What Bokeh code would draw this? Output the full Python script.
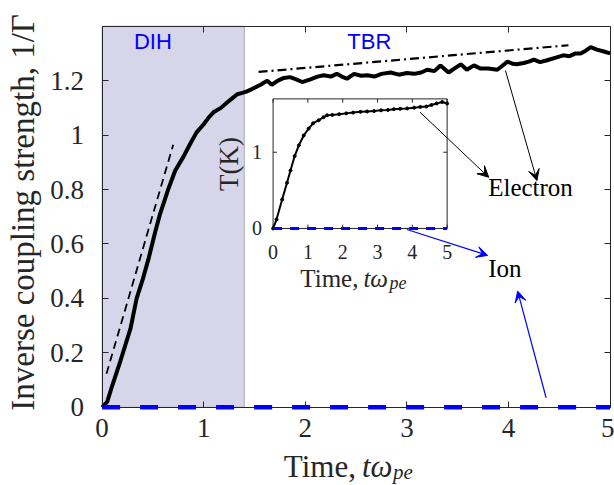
import math
from bokeh.plotting import figure
from bokeh.models import Range1d, LinearAxis, FixedTicker, BoxAnnotation, Label, Arrow, VeeHead
from bokeh.core.properties import value
from bokeh.embed import file_html
from bokeh.resources import INLINE

# ---------------- data ----------------
# electron inverse coupling strength 1/Gamma (main axes)
e_t = [0, 0.05, 0.1, 0.18, 0.28, 0.34, 0.4, 0.46, 0.52, 0.57, 0.65, 0.72, 0.8, 0.87, 0.93,
       1.0, 1.05, 1.1, 1.17, 1.23, 1.28, 1.33, 1.38, 1.42, 1.48, 1.56, 1.625, 1.67, 1.73, 1.79,
       1.85, 1.91, 1.97, 2.05, 2.12, 2.18, 2.25, 2.31, 2.36, 2.41, 2.48, 2.55, 2.61, 2.68, 2.75,
       2.84, 2.92, 3.0, 3.07, 3.14, 3.2, 3.27, 3.33, 3.41, 3.47, 3.53, 3.59, 3.66, 3.72, 3.8,
       3.89, 3.94, 3.99, 4.04, 4.08, 4.15, 4.2, 4.25, 4.31, 4.38, 4.45, 4.54, 4.6, 4.66, 4.71,
       4.76, 4.81, 4.87, 4.93, 5.0]
e_v = [0.0, 0.02, 0.08, 0.17, 0.29, 0.40, 0.47, 0.55, 0.64, 0.71, 0.80, 0.87, 0.92, 0.97, 1.01,
       1.04, 1.065, 1.085, 1.10, 1.12, 1.135, 1.15, 1.155, 1.16, 1.17, 1.185, 1.20, 1.185, 1.20, 1.21,
       1.213, 1.205, 1.195, 1.205, 1.215, 1.22, 1.215, 1.225, 1.215, 1.207, 1.225, 1.218, 1.22, 1.215, 1.225,
       1.23, 1.222, 1.228, 1.225, 1.23, 1.24, 1.235, 1.256, 1.23, 1.245, 1.26, 1.24, 1.256, 1.245, 1.245,
       1.24, 1.255, 1.27, 1.262, 1.26, 1.265, 1.27, 1.277, 1.268, 1.275, 1.283, 1.293, 1.29, 1.30, 1.30,
       1.31, 1.323, 1.314, 1.308, 1.30]
# ion inverse coupling strength (main axes)
ion_t = [0, 1, 2, 3, 4, 5]
ion_v = [0, 0, 0, 0, 0, 0]
# fit guides
dih_t = [0.043, 0.70]
dih_v = [0.123, 0.965]
tbr_t = [1.54, 4.59]
tbr_v = [1.232, 1.33]
dih_end = 1.4

# inset: temperature T(K)
in_t = [0, 0.1, 0.26, 0.4, 0.5, 0.62, 0.74, 0.88, 1.02, 1.15, 1.31, 1.45, 1.55, 1.7, 1.9, 2.1,
        2.3, 2.51, 2.7, 2.9, 3.1, 3.3, 3.47, 3.65, 3.85, 4.05, 4.23, 4.4, 4.55, 4.7, 4.86, 5.0]
in_e = [0, 0.12, 0.38, 0.60, 0.76, 0.95, 1.09, 1.22, 1.31, 1.38, 1.42, 1.46, 1.485, 1.49, 1.50, 1.51,
        1.52, 1.53, 1.535, 1.54, 1.55, 1.555, 1.565, 1.57, 1.575, 1.585, 1.595, 1.60, 1.62, 1.64, 1.66, 1.64]
in_ion_t = [0, 1, 2, 3, 4, 5]
in_ion_v = [0, 0, 0, 0, 0, 0]

# axes limits and ticks
x_lim = (0, 5)
y_lim = (0, 1.4)
x_ticks = [0, 1, 2, 3, 4, 5]
y_ticks = [0, 0.2, 0.4, 0.6, 0.8, 1, 1.2]
y_tick_labels = ["0", "0.2", "0.4", "0.6", "0.8", "1", "1.2"]
in_x_lim = (0, 5)
in_y_lim = (0, 1.7)
in_x_ticks = [0, 1, 2, 3, 4, 5]
in_x_labels = ["0", "1", "2", "3", "4", "5"]
in_y_ticks = [0, 1]
in_y_labels = ["0", "1"]

# annotation arrows (start -> end), main-axes data units
blk_x0 = [3.97, 3.13]
blk_y0 = [1.237, 1.084]
blk_x1 = [4.28, 3.805]
blk_y1 = [0.833, 0.845]
blu_x0 = [3.0, 4.37]
blu_y0 = [0.653, 0.035]
blu_x1 = [3.795, 4.09]
blu_y1 = [0.558, 0.427]

SERIF = "Liberation Serif"
AX = "#262626"

# the frame covers the whole canvas; the axes box is drawn with fixed-location axes
p = figure(width=614, height=485, x_range=Range1d(-1.0, 5.0433), y_range=Range1d(-0.2873, 1.4945),
           output_backend="svg", toolbar_location=None, min_border=0)
p.background_fill_color = "white"
p.outline_line_color = None
p.xgrid.visible = False
p.ygrid.visible = False

xa = p.xaxis[0]
ya = p.yaxis[0]
xa.fixed_location = y_lim[0]
xa.bounds = x_lim
ya.fixed_location = x_lim[0]
ya.bounds = y_lim
for ax in (xa, ya):
    ax.major_tick_in = 6
    ax.major_tick_out = 0
    ax.minor_tick_line_color = None
    ax.axis_line_color = AX
    ax.major_tick_line_color = AX
    ax.major_label_text_font = SERIF
    ax.major_label_text_font_size = "27px"
    ax.major_label_text_color = AX
xa.ticker = FixedTicker(ticks=x_ticks)
ya.ticker = FixedTicker(ticks=y_ticks)
ya.major_label_overrides = {t: s for t, s in zip(y_ticks, y_tick_labels)}
xa.major_label_standoff = 12
ya.major_label_standoff = 18

# top and right box edges: ticks only (as minor ticks, so no labels)
top = LinearAxis(fixed_location=y_lim[1], bounds=x_lim,
                 ticker=FixedTicker(ticks=[], minor_ticks=x_ticks),
                 minor_tick_in=6, minor_tick_out=0, minor_tick_line_color=AX,
                 major_tick_line_color=None, axis_line_color=AX)
p.add_layout(top, "above")
right = LinearAxis(fixed_location=x_lim[1], bounds=y_lim,
                   ticker=FixedTicker(ticks=[], minor_ticks=y_ticks),
                   minor_tick_in=6, minor_tick_out=0, minor_tick_line_color=AX,
                   major_tick_line_color=None, axis_line_color=AX)
p.add_layout(right, "right")

# shaded DIH region
p.add_layout(BoxAnnotation(left=0, right=dih_end, bottom=y_lim[0], top=y_lim[1],
                           fill_color="#d6d5e9", fill_alpha=1.0,
                           line_color=AX, line_width=1, level="underlay"))

# main curves
p.line(e_t, e_v, line_color="black", line_width=4)
p.line(dih_t, dih_v, line_color="black", line_width=1.8, line_dash="8 5")
p.line(tbr_t, tbr_v, line_color="black", line_width=2.2, line_dash="9 4 2 4")
p.line(ion_t, ion_v, line_color="#0000ff", line_width=4.5, line_dash="18 20", level="overlay")

# ---------------- inset ----------------
sub = p.subplot(x_source=Range1d(*in_x_lim), y_source=Range1d(*in_y_lim),
                x_target=Range1d(1.683, 3.396), y_target=Range1d(0.657, 1.133))
sub.quad(left=[in_x_lim[0]], right=[in_x_lim[1]], bottom=[in_y_lim[0]], top=[in_y_lim[1]],
         fill_color="white", line_color=AX, line_width=1)
sub.segment(x0=in_x_ticks, y0=[0] * 6, x1=in_x_ticks, y1=[0.05] * 6, line_color=AX, line_width=1)
sub.segment(x0=in_x_ticks, y0=[1.7] * 6, x1=in_x_ticks, y1=[1.65] * 6, line_color=AX, line_width=1)
sub.segment(x0=[0, 0], y0=in_y_ticks, x1=[0.11, 0.11], y1=in_y_ticks, line_color=AX, line_width=1)
sub.segment(x0=[5, 5], y0=in_y_ticks, x1=[4.89, 4.89], y1=in_y_ticks, line_color=AX, line_width=1)
sub.line(in_t, in_e, line_color="black", line_width=2)
sub.scatter(in_t, in_e, size=3, color="black")
sub.line(in_ion_t, in_ion_v, line_color="#0000ff", line_width=3, line_dash="9 8")
sub.text(x=in_x_ticks, y=[0] * 6, text=in_x_labels, text_align="center", text_baseline="middle",
         y_offset=24, text_font=value(SERIF), text_font_size="20px", text_color=AX)
sub.text(x=[0, 0], y=in_y_ticks, text=in_y_labels, text_align="right", text_baseline="middle",
         x_offset=-11, text_font=value(SERIF), text_font_size="20px", text_color=AX)
sub.text(x=[0], y=[0.846], text=["T(K)"], angle=math.pi / 2, text_align="center",
         text_baseline="middle", x_offset=-44, text_font=value(SERIF), text_font_size="27px",
         text_color=AX)
sub.text(x=[2.595], y=[0], text=["Time,"], text_align="right", text_baseline="middle",
         x_offset=-5, y_offset=50.2, text_font=value(SERIF), text_font_size="25px", text_color=AX)
sub.text(x=[2.595], y=[0], text=["t\u03c9"], text_align="left", text_baseline="middle",
         y_offset=50.2, text_font=value(SERIF), text_font_style="italic", text_font_size="25px",
         text_color=AX)
sub.text(x=[2.595], y=[0], text=["pe"], text_align="left", text_baseline="middle",
         x_offset=26, y_offset=55, text_font=value(SERIF), text_font_style="italic",
         text_font_size="18px", text_color=AX)

# ---------------- labels ----------------
p.add_layout(Label(x=0, y=0.716, x_offset=-79.6, text="Inverse coupling strength, 1/\u0393",
                   angle=math.pi / 2, text_align="center", text_baseline="middle",
                   text_font=SERIF, text_font_size="33px", text_color=AX))
p.add_layout(Label(x=2.557, y=0, x_offset=-6, y_offset=-59.0, text="Time,", text_align="right",
                   text_baseline="middle", text_font=SERIF, text_font_size="31px", text_color=AX))
p.add_layout(Label(x=2.557, y=0, y_offset=-59.0, text="t\u03c9", text_align="left",
                   text_baseline="middle", text_font=SERIF, text_font_style="italic",
                   text_font_size="31px", text_color=AX))
p.add_layout(Label(x=2.557, y=0, x_offset=31, y_offset=-64.5, text="pe", text_align="left",
                   text_baseline="middle", text_font=SERIF, text_font_style="italic",
                   text_font_size="21px", text_color=AX))

p.add_layout(Label(x=0.50, y=1.344, text="DIH", text_align="center", text_baseline="middle",
                   text_font="Liberation Sans", text_font_size="22px", text_color="#0000ff"))
p.add_layout(Label(x=2.63, y=1.344, text="TBR", text_align="center", text_baseline="middle",
                   text_font="Liberation Sans", text_font_size="22px", text_color="#0000ff"))
p.add_layout(Label(x=3.80, y=0.809, text="Electron", text_align="left", text_baseline="middle",
                   text_font=SERIF, text_font_size="25px", text_color="black"))
p.add_layout(Label(x=3.80, y=0.509, text="Ion", text_align="left", text_baseline="middle",
                   text_font=SERIF, text_font_size="25px", text_color="black"))

for x0, y0, x1, y1 in zip(blk_x0, blk_y0, blk_x1, blk_y1):
    p.add_layout(Arrow(x_start=x0, y_start=y0, x_end=x1, y_end=y1, line_color="black", line_width=1,
                       end=VeeHead(size=11, fill_color="black", line_color="black", line_width=1)))
for x0, y0, x1, y1 in zip(blu_x0, blu_y0, blu_x1, blu_y1):
    p.add_layout(Arrow(x_start=x0, y_start=y0, x_end=x1, y_end=y1, line_color="#0000ff", line_width=1.2,
                       end=VeeHead(size=11, fill_color="#0000ff", line_color="#0000ff", line_width=1)))

open("out.html", "w").write(file_html(p, INLINE))
